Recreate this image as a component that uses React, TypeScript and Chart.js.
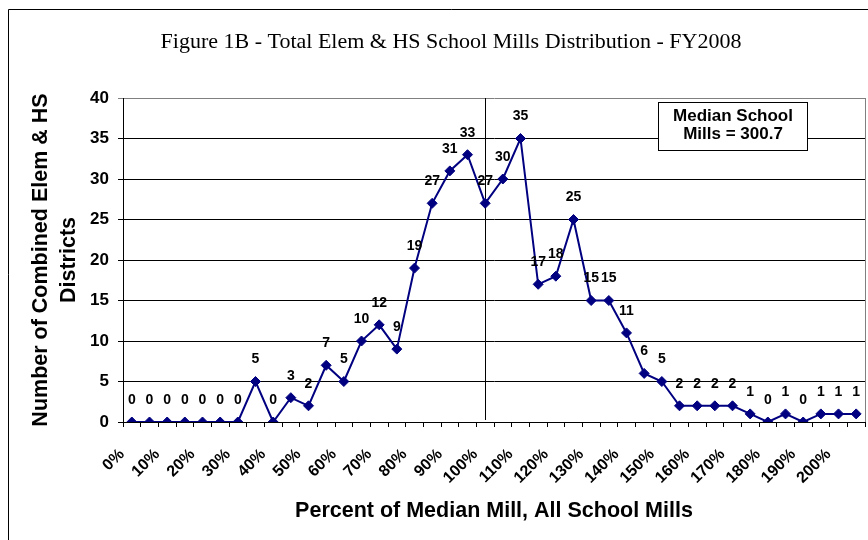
import React, { useEffect, useRef } from 'react';
import { Chart, registerables } from 'chart.js';

Chart.register(...registerables);

const chartTitle = 'Figure 1B - Total Elem & HS School Mills Distribution - FY2008';
const xAxisTitle = 'Percent of Median Mill, All School Mills';
const yAxisTitle = ['Number of Combined Elem & HS', 'Districts'];
const medianNote = ['Median School', 'Mills = 300.7'];
const medianCategory = '100%';

const categories = [
  '0%', '5%', '10%', '15%', '20%', '25%', '30%', '35%', '40%', '45%',
  '50%', '55%', '60%', '65%', '70%', '75%', '80%', '85%', '90%', '95%',
  '100%', '105%', '110%', '115%', '120%', '125%', '130%', '135%', '140%', '145%',
  '150%', '155%', '160%', '165%', '170%', '175%', '180%', '185%', '190%', '195%',
  '200%', '205%',
];

const districtCounts = [
  0, 0, 0, 0, 0, 0, 0, 5, 0, 3,
  2, 7, 5, 10, 12, 9, 19, 27, 31, 33,
  27, 30, 35, 17, 18, 25, 15, 15, 11, 6,
  5, 2, 2, 2, 2, 1, 0, 1, 0, 1,
  1, 1,
];

const shownTickLabels = [
  '0%', '10%', '20%', '30%', '40%', '50%', '60%', '70%', '80%', '90%', '100%',
  '110%', '120%', '130%', '140%', '150%', '160%', '170%', '180%', '190%', '200%',
];

const yMin = 0;
const yMax = 40;
const yStep = 5;

const SANS = "'Liberation Sans', Arial, Helvetica, sans-serif";
const SERIF = "'Liberation Serif', 'Times New Roman', serif";
const NAVY = '#000080';

const CANVAS_W = 886;
const CANVAS_H = 532;

const decorPlugin = {
  id: 'decor',
  beforeDatasetsDraw(chart: any) {
    const { ctx, chartArea, scales } = chart;
    ctx.save();
    // plot-area right border (gray)
    ctx.strokeStyle = '#808080';
    ctx.lineWidth = 1;
    ctx.beginPath();
    ctx.moveTo(Math.round(chartArea.right) + 0.5, chartArea.top);
    ctx.lineTo(Math.round(chartArea.right) + 0.5, chartArea.bottom);
    ctx.stroke();
    // median vertical line
    const mx = Math.round(scales.x.getPixelForValue(categories.indexOf(medianCategory))) + 0.5;
    ctx.strokeStyle = '#000000';
    ctx.beginPath();
    ctx.moveTo(mx, chartArea.top);
    ctx.lineTo(mx, chartArea.bottom - 2);
    ctx.stroke();
    ctx.restore();
  },
  afterDatasetsDraw(chart: any) {
    const { ctx } = chart;
    const meta = chart.getDatasetMeta(0);
    ctx.save();
    ctx.font = `bold 14px ${SANS}`;
    ctx.fillStyle = '#000000';
    ctx.textAlign = 'center';
    ctx.textBaseline = 'middle';
    meta.data.forEach((pt: any, i: number) => {
      ctx.fillText(String(districtCounts[i]), pt.x, pt.y - 22);
    });
    ctx.restore();
  },
  afterDraw(chart: any) {
    const { ctx, chartArea } = chart;
    ctx.save();
    // outer chart border (left & top visible)
    ctx.strokeStyle = '#000000';
    ctx.lineWidth = 1;
    ctx.beginPath();
    ctx.moveTo(0.5, CANVAS_H);
    ctx.lineTo(0.5, 1.5);
    ctx.lineTo(CANVAS_W, 1.5);
    ctx.stroke();
    // main title
    ctx.font = `22px ${SERIF}`;
    ctx.fillStyle = '#000000';
    ctx.textAlign = 'center';
    ctx.textBaseline = 'middle';
    ctx.fillText(chartTitle, 443, 34);
    // median note box
    const bw = 149;
    const bh = 48;
    const bx = Math.round(chartArea.right - 58 - bw) + 0.5;
    const by = Math.round(chartArea.top + 4) + 0.5;
    ctx.fillStyle = '#ffffff';
    ctx.fillRect(bx, by, bw, bh);
    ctx.strokeStyle = '#000000';
    ctx.strokeRect(bx, by, bw, bh);
    ctx.fillStyle = '#000000';
    ctx.font = `bold 17px ${SANS}`;
    ctx.fillText(medianNote[0], bx + bw / 2, by + 14);
    ctx.fillText(medianNote[1], bx + bw / 2, by + 32);
    ctx.restore();
  },
};

export default function App() {
  const canvasRef = useRef<HTMLCanvasElement | null>(null);

  useEffect(() => {
    const canvas = canvasRef.current;
    if (!canvas) return;
    const chart = new Chart(canvas, {
      type: 'line',
      data: {
        labels: categories,
        datasets: [
          {
            data: districtCounts,
            borderColor: NAVY,
            backgroundColor: NAVY,
            borderWidth: 2,
            pointStyle: 'rectRot',
            pointRadius: 5,
            pointBorderWidth: 1,
            pointBackgroundColor: NAVY,
            pointBorderColor: NAVY,
            tension: 0,
            fill: false,
          },
        ],
      },
      options: {
        responsive: false,
        animation: false,
        devicePixelRatio: 1,
        layout: { padding: { top: 90, right: 29, bottom: 0, left: 0 } },
        plugins: {
          legend: { display: false },
          title: { display: false },
          tooltip: { enabled: false },
        },
        scales: {
          x: {
            type: 'category',
            offset: true,
            grid: {
              offset: true,
              drawOnChartArea: false,
              drawTicks: true,
              tickLength: 5,
              color: '#000000',
            },
            border: { display: true, color: '#000000', width: 1 },
            ticks: {
              autoSkip: false,
              minRotation: 45,
              maxRotation: 45,
              padding: 18,
              labelOffset: -10,
              color: '#000000',
              font: { family: SANS, size: 16, weight: 'bold' },
              callback: (_v: any, i: number) =>
                shownTickLabels.includes(categories[i]) ? categories[i] : '',
            },
            title: {
              display: true,
              text: xAxisTitle,
              color: '#000000',
              font: { family: SANS, size: 21.5, weight: 'bold', lineHeight: 1.1 },
              padding: { top: 4, bottom: 17 },
            },
            afterFit: (scale: any) => {
              scale.height = 118;
            },
          },
          y: {
            min: yMin,
            max: yMax,
            grid: {
              color: (c: any) => (c.tick && c.tick.value === yMax ? '#808080' : '#000000'),
              tickLength: 5,
              lineWidth: 1,
            },
            border: { display: true, color: '#000000', width: 1 },
            ticks: {
              stepSize: yStep,
              padding: 9,
              color: '#000000',
              font: { family: SANS, size: 17, weight: 'bold' },
            },
            title: {
              display: true,
              text: yAxisTitle,
              color: '#000000',
              font: { family: SANS, size: 21.5, weight: 'bold', lineHeight: 1.3 },
              padding: { top: 19, bottom: 0 },
            },
            afterFit: (scale: any) => {
              scale.width = 115;
            },
          },
        },
      },
      plugins: [decorPlugin],
    });
    return () => chart.destroy();
  }, []);

  return (
    <div
      style={{
        position: 'fixed',
        left: 8,
        top: 8,
        width: 860,
        height: CANVAS_H,
        overflow: 'hidden',
        background: '#ffffff',
      }}
    >
      <canvas
        ref={canvasRef}
        width={CANVAS_W}
        height={CANVAS_H}
        style={{ display: 'block', width: CANVAS_W, height: CANVAS_H }}
      />
    </div>
  );
}
